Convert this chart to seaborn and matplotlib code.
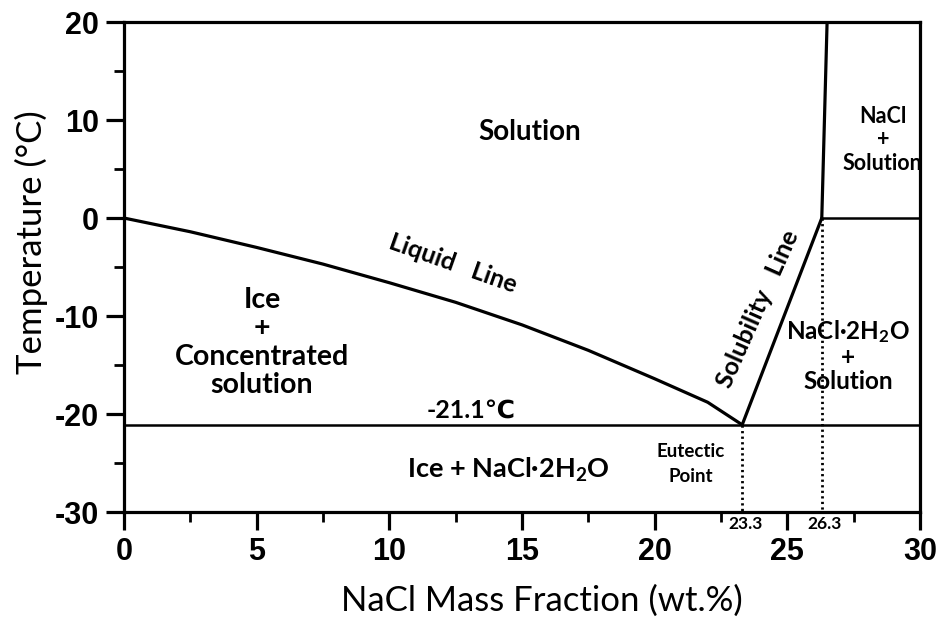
import numpy as np
import pandas as pd
import matplotlib
matplotlib.use("Agg")
import matplotlib.pyplot as plt
import seaborn as sns
from matplotlib.ticker import MultipleLocator

# Liquidus (freezing-point) curve of NaCl solution, wt.% vs degC
liquid_x = [0.0, 2.5, 5.0, 7.5, 10.0, 12.5, 15.0, 17.5, 20.0, 22.0, 23.3]
liquid_t = [0.0, -1.4, -3.0, -4.7, -6.6, -8.6, -10.9, -13.5, -16.4, -18.8, -21.1]

# Solubility line of NaCl·2H2O, then NaCl above the peritectic
solub_x = [23.3, 26.3]
solub_t = [-21.1, 0.0]
nacl_x = [26.3, 26.5]
nacl_t = [0.0, 20.0]

eutectic_x = 23.3
eutectic_t = -21.1
peritectic_x = 26.3
peritectic_t = 0.0

x_min, x_max = 0, 30
t_min, t_max = -30, 20
x_ticks = [0, 5, 10, 15, 20, 25, 30]
t_ticks = [-30, -20, -10, 0, 10, 20]

sns.set_theme(style="ticks")
plt.rcParams["font.family"] = ["Lato", "DejaVu Sans"]
plt.rcParams["mathtext.fontset"] = "custom"
plt.rcParams["mathtext.rm"] = "Lato:bold"
plt.rcParams["mathtext.it"] = "Lato:bold"
plt.rcParams["axes.unicode_minus"] = False
for key in ("text.color", "axes.labelcolor", "xtick.color", "ytick.color",
            "axes.edgecolor"):
    plt.rcParams[key] = "black"

fig = plt.figure(figsize=(9.42, 6.21), dpi=100)
ax = fig.add_axes([0.1316, 0.1755, 0.845, 0.789])

lw = 2.3
liq = pd.DataFrame({"x": liquid_x, "t": liquid_t})
sns.lineplot(data=liq, x="x", y="t", ax=ax, color="black", lw=lw, sort=False)
sol = pd.DataFrame({"x": solub_x, "t": solub_t})
sns.lineplot(data=sol, x="x", y="t", ax=ax, color="black", lw=lw, sort=False)
nac = pd.DataFrame({"x": nacl_x, "t": nacl_t})
sns.lineplot(data=nac, x="x", y="t", ax=ax, color="black", lw=lw, sort=False)

# eutectic isotherm and 0 degC boundary on the right
ax.plot([x_min, x_max], [eutectic_t, eutectic_t], color="black", lw=1.8)
ax.plot([peritectic_x, x_max], [peritectic_t, peritectic_t], color="black", lw=1.8)

# dotted drop lines to the composition axis
ax.plot([eutectic_x, eutectic_x], [eutectic_t, t_min], color="black", lw=2.0,
        ls=(0, (0.8, 1.2)))
ax.plot([peritectic_x, peritectic_x], [peritectic_t, t_min], color="black", lw=2.0,
        ls=(0, (0.8, 1.2)))

ax.set_xlim(x_min, x_max)
ax.set_ylim(t_min, t_max)
ax.set_xticks(x_ticks)
ax.set_yticks(t_ticks)
ax.xaxis.set_minor_locator(MultipleLocator(2.5))
ax.yaxis.set_minor_locator(MultipleLocator(5))
ax.tick_params(which="major", length=13, width=2.3, direction="out", pad=5)
ax.tick_params(which="minor", length=7.5, width=2.0, direction="out")
for s in ax.spines.values():
    s.set_linewidth(2.3)

for lab in ax.get_yticklabels() + ax.get_xticklabels():
    lab.set_fontfamily(["Liberation Sans", "DejaVu Sans"])
    lab.set_fontweight("bold")
    lab.set_fontsize(22)

ax.set_ylabel("Temperature (°C)", fontsize=25)
ax.yaxis.set_label_coords(-0.095, 0.55)
ax.set_xlabel("NaCl Mass Fraction (wt.%)", fontsize=25, va="center")
ax.xaxis.set_label_coords(0.525, -0.182)

# composition labels under the drop lines
for xv in (eutectic_x, peritectic_x):
    ax.text(xv + 0.12, -0.008, f"{xv:.1f}", transform=ax.get_xaxis_transform(),
            ha="center", va="top", fontsize=12.5, fontweight="bold")

tk = dict(color="black", fontweight="bold", ha="center", va="center")
ax.text(15.3, 8.8, "Solution", fontsize=20, **tk)
ax.text(12.4, -4.6, "Liquid   Line", fontsize=18, rotation=-19.5, **tk)
ax.text(5.2, -12.7, "Ice\n+\nConcentrated\nsolution", fontsize=20.5,
        linespacing=1.12, **tk)
ax.text(13.1, -19.6, "-21.1℃", fontsize=18, **tk)
ax.text(14.5, -25.7, "Ice + NaCl·2H$_2$O", fontsize=19.5, **tk)
ax.text(21.35, -25.1, "Eutectic\nPoint", fontsize=13.5, linespacing=1.6, **tk)
ax.text(23.9, -9.3, "Solubility   Line", fontsize=18, rotation=66, **tk)
ax.text(27.3, -14.0, "NaCl·2H$_2$O\n+\nSolution", fontsize=17.5, linespacing=1.05, **tk)
ax.text(28.6, 8.0, "NaCl\n+\nSolution", fontsize=15.5, linespacing=1.15, **tk)

fig.savefig("out.png", dpi=100)
